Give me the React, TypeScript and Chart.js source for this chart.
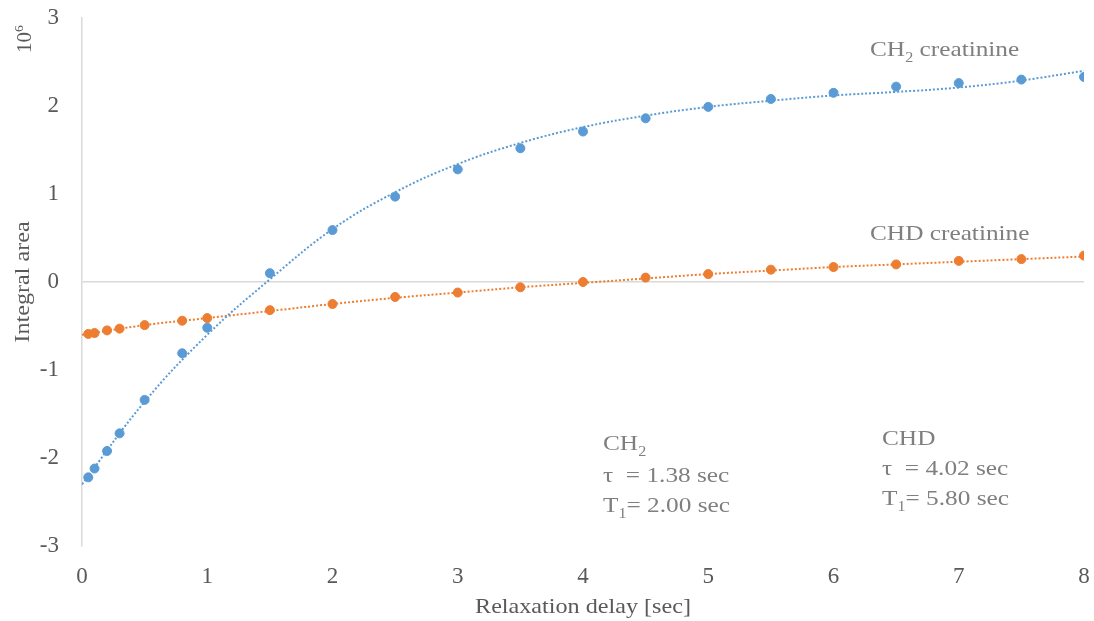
import React, { useEffect, useRef } from "react";
import { Chart, registerables } from "chart.js";

Chart.register(...registerables);

const delays = [0.05, 0.1, 0.2, 0.3, 0.5, 0.8, 1, 1.5, 2, 2.5, 3, 3.5, 4, 4.5, 5, 5.5, 6, 6.5, 7, 7.5, 8];
const ch2Values = [-2.22, -2.12, -1.92, -1.72, -1.34, -0.81, -0.52, 0.1, 0.59, 0.97, 1.28, 1.52, 1.71, 1.86, 1.99, 2.08, 2.15, 2.22, 2.26, 2.3, 2.33];
const chdValues = [-0.59, -0.58, -0.55, -0.53, -0.49, -0.44, -0.41, -0.32, -0.25, -0.17, -0.12, -0.06, 0.0, 0.05, 0.09, 0.14, 0.17, 0.2, 0.24, 0.26, 0.3];

const trendX = [0, 0.5, 1, 1.5, 2, 2.5, 3, 3.5, 4, 4.5, 5, 5.5, 6, 6.5, 7, 7.5, 8];
const ch2Trend = [-2.3, -1.36, -0.6, 0.03, 0.6, 1.02, 1.34, 1.58, 1.76, 1.89, 1.99, 2.06, 2.12, 2.16, 2.21, 2.29, 2.4];
const chdTrend = [-0.6, -0.49, -0.41, -0.33, -0.25, -0.18, -0.12, -0.06, -0.01, 0.04, 0.09, 0.13, 0.17, 0.2, 0.23, 0.26, 0.29];

const xTicks = [0, 1, 2, 3, 4, 5, 6, 7, 8];
const yTicks = [-3, -2, -1, 0, 1, 2, 3];

const xTitle = "Relaxation delay [sec]";
const yTitle = "Integral area";

const BLUE = "#5B9BD5";
const ORANGE = "#ED7D31";
const AXIS_TEXT = "#595959";
const NOTE_TEXT = "#7f7f7f";
const SERIF = "'Liberation Serif', 'Times New Roman', serif";
const STRETCH = 1.15;

type Part = { t: string; sub?: boolean; sup?: boolean };

function partFont(p: Part, size: number) {
  return p.sub || p.sup ? `${Math.round(size * 0.65)}px ${SERIF}` : `${size}px ${SERIF}`;
}

function richWidth(ctx: CanvasRenderingContext2D, parts: Part[], size: number) {
  let w = 0;
  for (const p of parts) {
    ctx.font = partFont(p, size);
    w += ctx.measureText(p.t).width;
  }
  return w;
}

function drawRich(
  ctx: CanvasRenderingContext2D,
  parts: Part[],
  x: number,
  y: number,
  size: number,
  opts: { sx?: number; rot?: number; center?: boolean } = {}
) {
  const sx = opts.sx ?? STRETCH;
  ctx.save();
  ctx.translate(x, y);
  if (opts.rot) ctx.rotate(opts.rot);
  ctx.scale(sx, 1);
  let cx = opts.center ? -richWidth(ctx, parts, size) / 2 : 0;
  for (const p of parts) {
    ctx.font = partFont(p, size);
    const dy = p.sub ? size * 0.28 : p.sup ? -size * 0.4 : 0;
    ctx.fillText(p.t, cx, dy);
    cx += ctx.measureText(p.t).width;
  }
  ctx.restore();
}

const notesPlugin = {
  id: "notes",
  afterDraw(chart: any) {
    const ctx: CanvasRenderingContext2D = chart.ctx;
    const area = chart.chartArea;
    ctx.save();
    ctx.textAlign = "left";
    ctx.textBaseline = "alphabetic";
    ctx.fillStyle = NOTE_TEXT;
    drawRich(ctx, [{ t: "CH" }, { t: "2", sub: true }, { t: " creatinine" }], 870, 56, 22);
    drawRich(ctx, [{ t: "CHD creatinine" }], 870, 240, 22);
    drawRich(ctx, [{ t: "CH" }, { t: "2", sub: true }], 603, 450, 22);
    drawRich(ctx, [{ t: "\u03c4  = 1.38 sec" }], 603, 482, 22);
    drawRich(ctx, [{ t: "T" }, { t: "1", sub: true }, { t: "= 2.00 sec" }], 603, 512, 22);
    drawRich(ctx, [{ t: "CHD" }], 882, 445, 22);
    drawRich(ctx, [{ t: "\u03c4  = 4.02 sec" }], 882, 475, 22);
    drawRich(ctx, [{ t: "T" }, { t: "1", sub: true }, { t: "= 5.80 sec" }], 882, 505, 22);

    ctx.fillStyle = AXIS_TEXT;
    ctx.textBaseline = "middle";
    drawRich(ctx, [{ t: xTitle }], (area.left + area.right) / 2, 607, 21, { center: true });
    drawRich(ctx, [{ t: yTitle }], 23, (area.top + area.bottom) / 2, 21, { center: true, rot: -Math.PI / 2 });
    ctx.textBaseline = "alphabetic";
    drawRich(ctx, [{ t: "10" }, { t: "6", sup: true }], 31, 53, 20, { rot: -Math.PI / 2, sx: 1.05 });
    ctx.restore();
  },
};

export default function App() {
  const ref = useRef<HTMLCanvasElement | null>(null);
  useEffect(() => {
    document.body.style.margin = "0";
    if (!ref.current) return;
    const chart = new Chart(ref.current, {
      type: "scatter",
      data: {
        datasets: [
          {
            label: "CH2 trend",
            data: trendX.map((x, i) => ({ x, y: ch2Trend[i] })),
            showLine: true,
            borderColor: BLUE,
            borderWidth: 2,
            borderDash: [2, 2],
            pointRadius: 0,
            tension: 0.4,
            fill: false,
          },
          {
            label: "CHD trend",
            data: trendX.map((x, i) => ({ x, y: chdTrend[i] })),
            showLine: true,
            borderColor: ORANGE,
            borderWidth: 2,
            borderDash: [2, 2],
            pointRadius: 0,
            tension: 0.4,
            fill: false,
          },
          {
            label: "CH2 creatinine",
            data: delays.map((x, i) => ({ x, y: ch2Values[i] })),
            backgroundColor: BLUE,
            borderColor: BLUE,
            pointRadius: 4.5,
            showLine: false,
          },
          {
            label: "CHD creatinine",
            data: delays.map((x, i) => ({ x, y: chdValues[i] })),
            backgroundColor: ORANGE,
            borderColor: ORANGE,
            pointRadius: 4.5,
            showLine: false,
          },
        ],
      },
      options: {
        animation: false,
        responsive: false,
        maintainAspectRatio: false,
        layout: { autoPadding: false, padding: { top: 18, right: 10, left: 0, bottom: 0 } },
        plugins: { legend: { display: false }, tooltip: { enabled: false } },
        scales: {
          x: {
            type: "linear",
            min: 0,
            max: 8,
            afterBuildTicks: (s: any) => {
              s.ticks = xTicks.map((v) => ({ value: v }));
            },
            afterFit: (s: any) => {
              s.height = 75;
              s.paddingLeft = 0;
              s.paddingRight = 0;
              s.paddingTop = 0;
              s.paddingBottom = 0;
            },
            grid: { display: false, drawTicks: false },
            border: { display: false },
            ticks: {
              padding: 17,
              color: AXIS_TEXT,
              font: { family: SERIF, size: 23 },
            },
          },
          y: {
            type: "linear",
            min: -3,
            max: 3,
            afterBuildTicks: (s: any) => {
              s.ticks = yTicks.map((v) => ({ value: v }));
            },
            afterFit: (s: any) => {
              s.width = 82;
              s.paddingLeft = 0;
              s.paddingRight = 0;
              s.paddingTop = 0;
              s.paddingBottom = 0;
            },
            grid: {
              drawTicks: false,
              color: (c: any) => (c.tick && c.tick.value === 0 ? "#d9d9d9" : "rgba(0,0,0,0)"),
              lineWidth: 1.5,
            },
            border: { display: true, color: "#d9d9d9", width: 1.5 },
            ticks: {
              padding: 23,
              color: AXIS_TEXT,
              font: { family: SERIF, size: 23 },
            },
          },
        },
      },
      plugins: [notesPlugin],
    });
    return () => chart.destroy();
  }, []);
  return (
    <div style={{ width: 1094, height: 621, background: "#fff" }}>
      <canvas ref={ref} width={1094} height={621} style={{ display: "block" }} />
    </div>
  );
}
